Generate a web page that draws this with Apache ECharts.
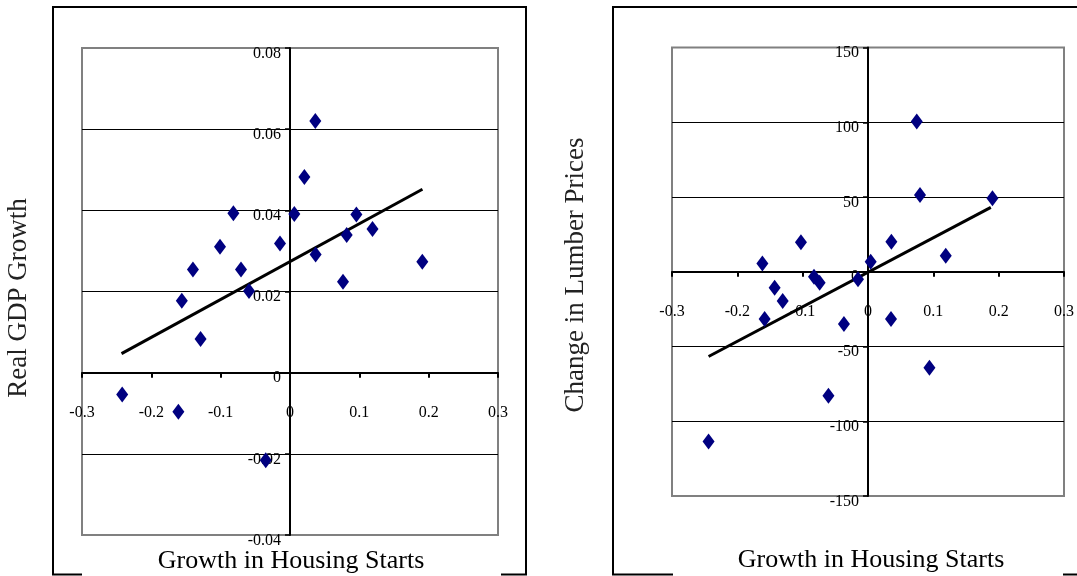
<!DOCTYPE html>
<html>
<head>
<meta charset="utf-8">
<script src="https://cdn.jsdelivr.net/npm/echarts@6/dist/echarts.min.js"></script>
<style>html,body{margin:0;padding:0;background:#fff}#c{width:1077px;height:576px}</style>
</head>
<body>
<div id="c"></div>
<script>
// ---- Data ----
const xTickLabels = ['-0.3', '-0.2', '-0.1', '0', '0.1', '0.2', '0.3'];
const gdpTickLabels = ['-0.04', '-0.02', '0', '0.02', '0.04', '0.06', '0.08'];
const lumberTickLabels = ['-150', '-100', '-50', '0', '50', '100', '150'];

// Left chart: growth in housing starts vs real GDP growth
const gdpHousing = [0.0365, 0.0207, -0.0817, 0.0062, 0.0957, -0.101, -0.0144, 0.119, 0.0818, 0.037,
  -0.140, -0.0707, 0.1908, -0.0591, 0.0764, -0.156, -0.129, -0.242, -0.161, -0.035];
const gdpGrowth = [0.0620, 0.0482, 0.0393, 0.0391, 0.0390, 0.0310, 0.0318, 0.0354, 0.0339, 0.0291,
  0.0254, 0.0254, 0.0273, 0.0201, 0.0224, 0.0177, 0.0083, -0.0054, -0.0096, -0.0216];
const gdpTrendX = [-0.243, 0.191];
const gdpTrendY = [0.0047, 0.0452];

// Right chart: growth in housing starts vs change in lumber prices
const lumberHousing = [0.0746, 0.0796, 0.1905, -0.1026, 0.0358, -0.1617, 0.119, 0.0041, -0.0827, -0.074,
  -0.0153, -0.1429, -0.1306, -0.1582, -0.0368, 0.0352, 0.094, -0.0606, -0.244];
const lumberChange = [100.5, 51.3, 49.1, 19.7, 20.1, 5.6, 10.7, 6.7, -3.3, -7.4,
  -5.1, -10.7, -19.6, -31.6, -35.0, -31.6, -64.2, -82.9, -113.6];
const lumberTrendX = [-0.244, 0.188];
const lumberTrendY = [-56.7, 43.1];

// ---- Build ----
const zip = (a, b) => a.map((v, i) => [v, b[i]]);
const FONT = '"Liberation Serif", "Times New Roman", serif';
const ink = '#000';
const gray = '#808080';
const X_MIN = -0.3, X_MAX = 0.3;

const grids = [
  { left: 82, top: 48, width: 416, height: 487 },
  { left: 672, top: 47.5, width: 392, height: 448.5 }
];
const yRanges = [
  { min: -0.04, max: 0.08, interval: 0.02, labels: gdpTickLabels },
  { min: -150, max: 150, interval: 50, labels: lumberTickLabels }
];

function xAxisCfg(gi) {
  const g = grids[gi], r = yRanges[gi];
  // shift the bottom axis up to the y = 0 level
  const off = -g.height * (0 - r.min) / (r.max - r.min);
  return {
    type: 'value', gridIndex: gi, min: X_MIN, max: X_MAX, interval: 0.1,
    position: 'bottom', offset: off,
    axisLine: { onZero: false, lineStyle: { color: ink, width: 2 } },
    axisTick: { show: true, length: 5, lineStyle: { color: ink, width: 2 } },
    axisLabel: { margin: 32, fontFamily: FONT, fontSize: 16, color: ink,
      showMinLabel: true, showMaxLabel: true,
      formatter: (v, i) => xTickLabels[i] },
    splitLine: { show: false }
  };
}
function yAxisCfg(gi) {
  const g = grids[gi], r = yRanges[gi];
  // shift the left axis right to the x = 0 level
  const off = -g.width * (0 - X_MIN) / (X_MAX - X_MIN);
  return {
    type: 'value', gridIndex: gi, min: r.min, max: r.max, interval: r.interval,
    position: 'left', offset: off,
    axisLine: { onZero: false, lineStyle: { color: ink, width: 2 } },
    axisTick: { show: true, length: 5, lineStyle: { color: ink, width: 1.5 } },
    axisLabel: { margin: 9, color: ink, verticalAlign: 'middle',
      showMinLabel: true, showMaxLabel: true,
      formatter: (v, i) => '{t|' + r.labels[i] + '}',
      rich: { t: { fontFamily: FONT, fontSize: 16, color: ink, padding: [11, 0, 0, 0] } } },
    splitLine: { show: true, lineStyle: { width: 1, color: [gray, ink, ink, ink, ink, ink, gray] } }
  };
}

const option = {
  backgroundColor: '#fff',
  animation: false,
  grid: grids.map(g => Object.assign({ show: true, borderColor: gray, borderWidth: 2, backgroundColor: 'transparent' }, g)),
  xAxis: [xAxisCfg(0), xAxisCfg(1)],
  yAxis: [yAxisCfg(0), yAxisCfg(1)],
  series: [
    { type: 'line', xAxisIndex: 0, yAxisIndex: 0, data: zip(gdpTrendX, gdpTrendY),
      symbol: 'none', lineStyle: { color: ink, width: 3 }, z: 3 },
    { type: 'scatter', xAxisIndex: 0, yAxisIndex: 0, data: zip(gdpHousing, gdpGrowth),
      symbol: 'diamond', symbolSize: [12, 16], itemStyle: { color: '#000080', opacity: 1 }, z: 4 },
    { type: 'line', xAxisIndex: 1, yAxisIndex: 1, data: zip(lumberTrendX, lumberTrendY),
      symbol: 'none', lineStyle: { color: ink, width: 3 }, z: 3 },
    { type: 'scatter', xAxisIndex: 1, yAxisIndex: 1, data: zip(lumberHousing, lumberChange),
      symbol: 'diamond', symbolSize: [12, 16], itemStyle: { color: '#000080', opacity: 1 }, z: 4 }
  ],
  graphic: [
    // chart frames
    { type: 'polyline', shape: { points: [[82, 574.5], [53, 574.5], [53, 7], [526, 7], [526, 574.5], [501, 574.5]] },
      style: { stroke: ink, lineWidth: 2, fill: null } },
    { type: 'polyline', shape: { points: [[673, 574.5], [613, 574.5], [613, 7], [1077, 7]] },
      style: { stroke: ink, lineWidth: 2, fill: null } },
    { type: 'line', shape: { x1: 1063, y1: 574.5, x2: 1077, y2: 574.5 }, style: { stroke: ink, lineWidth: 2 } },
    // titles
    { type: 'text', x: 291, y: 561, style: { text: 'Growth in Housing Starts', font: '26px ' + FONT, fill: ink, align: 'center', verticalAlign: 'middle' } },
    { type: 'text', x: 871, y: 560, style: { text: 'Growth in Housing Starts', font: '26px ' + FONT, fill: ink, align: 'center', verticalAlign: 'middle' } },
    { type: 'text', x: 19, y: 298, rotation: Math.PI / 2, style: { text: 'Real GDP Growth', font: '27px ' + FONT, fill: '#222', align: 'center', verticalAlign: 'middle' } },
    { type: 'text', x: 576, y: 275, rotation: Math.PI / 2, style: { text: 'Change in Lumber Prices', font: '27px ' + FONT, fill: '#222', align: 'center', verticalAlign: 'middle' } }
  ]
};

const chart = echarts.init(document.getElementById('c'), null, { renderer: 'canvas' });
chart.setOption(option);
</script>
</body>
</html>
